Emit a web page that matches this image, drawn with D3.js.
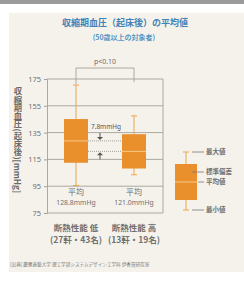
<!DOCTYPE html>
<html>
<head>
<meta charset="utf-8">
<script src="https://cdn.jsdelivr.net/npm/d3@7"></script>
<style>
    body { margin: 0; background: #fff; }
    text { font-family: "Noto Sans CJK JP", "Noto Sans", sans-serif; }
</style>
</head>
<body>
<div id="chart"></div>
<script>
// data
var categories = ['断熱性能 低', '断熱性能 高'],
    households = ['(27軒・43名)', '(13軒・19名)'],
    means = [128.8, 121.0],
    sds = [16.3, 12.8],
    maxs = [170.5, 147.5],
    mins = [95.5, 103.5],
    yTicks = [75, 95, 115, 135, 155, 175],
    legendLabels = ['最大値', '標準偏差', '平均値', '最小値'];

var width = 244,
    height = 289,
    plot = { left: 47, right: 163, top: 79, bottom: 213 },
    orange = '#e98f2c',
    whisker_color = '#eaa64e',
    mean_color = '#f6c987',
    grid_color = '#a3a09a',
    text_gray = '#707070',
    blue = '#3f82b8';

var svg = d3.select('#chart').append('svg')
    .attr('width', width)
    .attr('height', height);

// paper background + top bar
svg.append('rect')
    .attr('x', 0).attr('y', 0).attr('width', width).attr('height', 4)
    .attr('fill', '#9a9a9a');
svg.append('rect')
    .attr('x', 9).attr('y', 13).attr('width', width - 9).attr('height', 259)
    .attr('fill', '#f5f2eb');

// title
svg.append('text')
    .attr('x', 125).attr('y', 26)
    .attr('text-anchor', 'middle')
    .attr('font-size', 9)
    .attr('font-weight', 'bold')
    .attr('fill', blue)
    .text('収縮期血圧（起床後）の平均値');
svg.append('text')
    .attr('x', 124).attr('y', 40)
    .attr('text-anchor', 'middle')
    .attr('font-size', 7)
    .attr('font-weight', 'bold')
    .attr('fill', '#5a95c4')
    .text('(50歳以上の対象者)');

// scales
var x = d3.scaleBand()
    .domain(categories)
    .range([plot.left, plot.right])
    .padding(0);

var y = d3.scaleLinear()
    .domain([75, 175])
    .range([plot.bottom, plot.top]);

var box_w = 24;

// grid lines
svg.append('g')
    .selectAll('line')
    .data(yTicks)
    .enter().append('line')
    .attr('x1', plot.left)
    .attr('x2', plot.right)
    .attr('y1', function(d) { return y(d); })
    .attr('y2', function(d) { return y(d); })
    .attr('stroke', grid_color)
    .attr('stroke-width', 0.9);

// right frame
svg.append('line')
    .attr('x1', plot.right).attr('x2', plot.right)
    .attr('y1', plot.top).attr('y2', plot.bottom)
    .attr('stroke', grid_color)
    .attr('stroke-width', 0.9);

// y axis
var yAxis = svg.append('g')
    .attr('transform', 'translate(' + plot.left + ',0)')
    .call(d3.axisLeft(y).tickValues(yTicks).tickSize(3).tickPadding(3));
yAxis.select('.domain').attr('stroke', grid_color).attr('stroke-width', 0.9);
yAxis.selectAll('.tick line').attr('stroke', grid_color);
yAxis.selectAll('.tick text')
    .attr('fill', text_gray)
    .attr('font-size', 7.5)
    .style('font-family', '"Noto Sans", sans-serif');

// y axis title (vertical writing)
svg.append('text')
    .attr('x', 18).attr('y', 140)
    .attr('text-anchor', 'middle')
    .attr('font-size', 8.3)
    .attr('font-weight', 'bold')
    .attr('fill', '#6a6a6a')
    .style('writing-mode', 'vertical-rl')
    .text('収縮期血圧(起床後)[mmHg]');

// p<0.10 bracket
var c0 = x(categories[0]) + x.bandwidth() / 2,
    c1 = x(categories[1]) + x.bandwidth() / 2,
    bracket_y = 68;
svg.append('path')
    .attr('d', 'M' + c0 + ',' + (y(maxs[0]) - 1) +
               'L' + c0 + ',' + bracket_y +
               'L' + c1 + ',' + bracket_y +
               'L' + c1 + ',' + (plot.top + 3))
    .attr('fill', 'none')
    .attr('stroke', grid_color)
    .attr('stroke-width', 0.9);
svg.append('text')
    .attr('x', (c0 + c1) / 2).attr('y', 64)
    .attr('text-anchor', 'middle')
    .attr('font-size', 7)
    .attr('fill', text_gray)
    .style('font-family', '"Noto Sans", sans-serif')
    .text('p<0.10');

// mean difference dotted lines
means.forEach(function(m) {
    svg.append('line')
        .attr('x1', c0 + box_w / 2)
        .attr('x2', c1 - box_w / 2)
        .attr('y1', y(m)).attr('y2', y(m))
        .attr('stroke', '#8e8a84')
        .attr('stroke-width', 0.8)
        .attr('stroke-dasharray', '1,1');
});

// arrows
var arrow_x = 100;
svg.append('line')
    .attr('x1', arrow_x).attr('x2', arrow_x)
    .attr('y1', y(means[0]) - 8).attr('y2', y(means[0]) - 3)
    .attr('stroke', '#555').attr('stroke-width', 1);
svg.append('path')
    .attr('d', 'M' + (arrow_x - 3) + ',' + (y(means[0]) - 4) +
               'L' + (arrow_x + 3) + ',' + (y(means[0]) - 4) +
               'L' + arrow_x + ',' + (y(means[0]) - 1) + 'Z')
    .attr('fill', '#555');
svg.append('line')
    .attr('x1', arrow_x).attr('x2', arrow_x)
    .attr('y1', y(means[1]) + 3).attr('y2', y(means[1]) + 8)
    .attr('stroke', '#555').attr('stroke-width', 1);
svg.append('path')
    .attr('d', 'M' + (arrow_x - 3) + ',' + (y(means[1]) + 4) +
               'L' + (arrow_x + 3) + ',' + (y(means[1]) + 4) +
               'L' + arrow_x + ',' + (y(means[1]) + 1) + 'Z')
    .attr('fill', '#555');
svg.append('text')
    .attr('x', 106).attr('y', y(means[0]) - 12)
    .attr('text-anchor', 'middle')
    .attr('font-size', 6.5)
    .attr('fill', '#555')
    .style('font-family', '"Noto Sans", sans-serif')
    .text((means[0] - means[1]).toFixed(1) + 'mmHg');

// boxes
var boxes = svg.append('g')
    .selectAll('g')
    .data(categories)
    .enter().append('g')
    .attr('transform', function(d) {
        return 'translate(' + (x(d) + x.bandwidth() / 2) + ',0)';
    });

boxes.append('line')
    .attr('x1', 0).attr('x2', 0)
    .attr('y1', function(d, i) { return y(maxs[i]); })
    .attr('y2', function(d, i) { return y(mins[i]); })
    .attr('stroke', whisker_color)
    .attr('stroke-width', 1);
[maxs, mins].forEach(function(arr) {
    boxes.append('line')
        .attr('x1', -3).attr('x2', 3)
        .attr('y1', function(d, i) { return y(arr[i]); })
        .attr('y2', function(d, i) { return y(arr[i]); })
        .attr('stroke', whisker_color)
        .attr('stroke-width', 1);
});
boxes.append('rect')
    .attr('x', -box_w / 2)
    .attr('width', box_w)
    .attr('y', function(d, i) { return y(means[i] + sds[i]); })
    .attr('height', function(d, i) { return y(means[i] - sds[i]) - y(means[i] + sds[i]); })
    .attr('fill', orange);
boxes.append('line')
    .attr('x1', -box_w / 2).attr('x2', box_w / 2)
    .attr('y1', function(d, i) { return y(means[i]); })
    .attr('y2', function(d, i) { return y(means[i]); })
    .attr('stroke', mean_color)
    .attr('stroke-width', 1);

// mean labels under boxes
boxes.append('text')
    .attr('y', 195)
    .attr('text-anchor', 'middle')
    .attr('font-size', 8)
    .attr('fill', text_gray)
    .text('平均');
boxes.append('text')
    .attr('y', 205)
    .attr('text-anchor', 'middle')
    .attr('font-size', 6.8)
    .attr('fill', text_gray)
    .style('font-family', '"Noto Sans", sans-serif')
    .text(function(d, i) { return means[i].toFixed(1) + 'mmHg'; });

// category labels
boxes.append('text')
    .attr('y', 231)
    .attr('text-anchor', 'middle')
    .attr('font-size', 8.5)
    .attr('font-weight', 'bold')
    .attr('fill', text_gray)
    .text(function(d) { return d; });
boxes.append('text')
    .attr('y', 243)
    .attr('text-anchor', 'middle')
    .attr('font-size', 8.5)
    .attr('font-weight', 'bold')
    .attr('fill', text_gray)
    .text(function(d, i) { return households[i]; });

// legend
var lg = svg.append('g').attr('transform', 'translate(186,0)'),
    lg_ys = [152, 164, 182, 200, 210];
lg.append('line')
    .attr('x1', 0).attr('x2', 0).attr('y1', lg_ys[0]).attr('y2', lg_ys[4])
    .attr('stroke', whisker_color).attr('stroke-width', 1);
lg.append('line')
    .attr('x1', -3).attr('x2', 3).attr('y1', lg_ys[0]).attr('y2', lg_ys[0])
    .attr('stroke', whisker_color).attr('stroke-width', 1);
lg.append('line')
    .attr('x1', -3).attr('x2', 3).attr('y1', lg_ys[4]).attr('y2', lg_ys[4])
    .attr('stroke', whisker_color).attr('stroke-width', 1);
lg.append('rect')
    .attr('x', -11).attr('y', lg_ys[1]).attr('width', 22).attr('height', lg_ys[3] - lg_ys[1])
    .attr('fill', orange);
lg.append('line')
    .attr('x1', -11).attr('x2', 11).attr('y1', lg_ys[2]).attr('y2', lg_ys[2])
    .attr('stroke', mean_color).attr('stroke-width', 1);

var legend_y = [152, 172, 182, 210],
    legend_from = [6, 6, 12, 6];
legendLabels.forEach(function(lbl, i) {
    lg.append('line')
        .attr('x1', legend_from[i]).attr('x2', 18)
        .attr('y1', legend_y[i]).attr('y2', legend_y[i])
        .attr('stroke', '#777').attr('stroke-width', 0.8);
    lg.append('text')
        .attr('x', 20).attr('y', legend_y[i])
        .attr('dy', '0.35em')
        .attr('font-size', 6.5)
        .attr('font-weight', 'bold')
        .attr('fill', text_gray)
        .text(lbl);
});

// source
svg.append('text')
    .attr('x', 10).attr('y', 266)
    .attr('font-size', 4.6)
    .attr('fill', '#777')
    .text('[出典] 慶應義塾大学 理工学部システムデザイン工学科 伊香賀研究室');
</script>
</body>
</html>
